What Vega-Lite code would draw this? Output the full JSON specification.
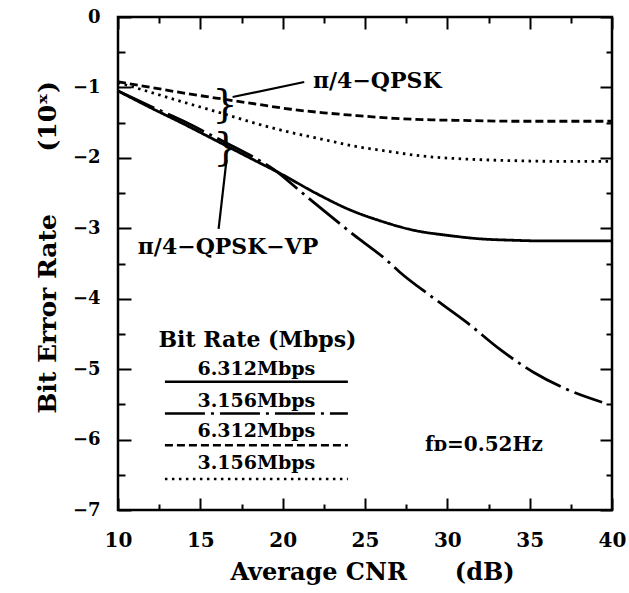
{
  "$schema": "https://vega.github.io/schema/vega-lite/v6.json",
  "width": 494,
  "height": 493,
  "autosize": "none",
  "padding": {"left": 118, "top": 17, "right": 17, "bottom": 83},
  "background": "white",
  "config": {
    "view": {"stroke": "black", "strokeWidth": 2.5},
    "font": "DejaVu Serif",
    "axis": {
      "domain": false,
      "grid": false,
      "ticks": true,
      "tickColor": "black",
      "tickWidth": 2,
      "labelColor": "black",
      "labelFont": "DejaVu Serif",
      "labelFontWeight": "bold",
      "labelFlush": false,
      "labelOverlap": false,
      "titleColor": "black",
      "titleFont": "DejaVu Serif",
      "titleFontWeight": "bold"
    }
  },
  "datasets": {
    "curves": [
      {"series": "VP 6.312", "cnr": 10, "ber": -1.05},
      {"series": "VP 6.312", "cnr": 12, "ber": -1.29},
      {"series": "VP 6.312", "cnr": 14, "ber": -1.52},
      {"series": "VP 6.312", "cnr": 16, "ber": -1.76},
      {"series": "VP 6.312", "cnr": 18, "ber": -2.0},
      {"series": "VP 6.312", "cnr": 20, "ber": -2.24},
      {"series": "VP 6.312", "cnr": 22, "ber": -2.5},
      {"series": "VP 6.312", "cnr": 24, "ber": -2.73},
      {"series": "VP 6.312", "cnr": 26, "ber": -2.9},
      {"series": "VP 6.312", "cnr": 28, "ber": -3.03},
      {"series": "VP 6.312", "cnr": 30, "ber": -3.1},
      {"series": "VP 6.312", "cnr": 32, "ber": -3.15},
      {"series": "VP 6.312", "cnr": 34, "ber": -3.17},
      {"series": "VP 6.312", "cnr": 36, "ber": -3.18},
      {"series": "VP 6.312", "cnr": 38, "ber": -3.18},
      {"series": "VP 6.312", "cnr": 40, "ber": -3.18},
      {"series": "VP 3.156", "cnr": 10, "ber": -1.05},
      {"series": "VP 3.156", "cnr": 12, "ber": -1.27},
      {"series": "VP 3.156", "cnr": 14, "ber": -1.48},
      {"series": "VP 3.156", "cnr": 16, "ber": -1.72},
      {"series": "VP 3.156", "cnr": 18, "ber": -1.96},
      {"series": "VP 3.156", "cnr": 19.5, "ber": -2.17},
      {"series": "VP 3.156", "cnr": 21, "ber": -2.46},
      {"series": "VP 3.156", "cnr": 22.5, "ber": -2.75},
      {"series": "VP 3.156", "cnr": 24.3, "ber": -3.09},
      {"series": "VP 3.156", "cnr": 26.3, "ber": -3.45},
      {"series": "VP 3.156", "cnr": 27.1, "ber": -3.62},
      {"series": "VP 3.156", "cnr": 29.1, "ber": -3.98},
      {"series": "VP 3.156", "cnr": 31.2, "ber": -4.34},
      {"series": "VP 3.156", "cnr": 33.2, "ber": -4.72},
      {"series": "VP 3.156", "cnr": 35.2, "ber": -5.04},
      {"series": "VP 3.156", "cnr": 37.2, "ber": -5.28},
      {"series": "VP 3.156", "cnr": 39.4, "ber": -5.47},
      {"series": "QPSK 6.312", "cnr": 10, "ber": -0.92},
      {"series": "QPSK 6.312", "cnr": 12, "ber": -1.0},
      {"series": "QPSK 6.312", "cnr": 14, "ber": -1.08},
      {"series": "QPSK 6.312", "cnr": 16.5, "ber": -1.17},
      {"series": "QPSK 6.312", "cnr": 18.5, "ber": -1.24},
      {"series": "QPSK 6.312", "cnr": 20.5, "ber": -1.31},
      {"series": "QPSK 6.312", "cnr": 22.5, "ber": -1.36},
      {"series": "QPSK 6.312", "cnr": 24.5, "ber": -1.4},
      {"series": "QPSK 6.312", "cnr": 26.8, "ber": -1.44},
      {"series": "QPSK 6.312", "cnr": 29, "ber": -1.46},
      {"series": "QPSK 6.312", "cnr": 31.4, "ber": -1.47},
      {"series": "QPSK 6.312", "cnr": 34, "ber": -1.48},
      {"series": "QPSK 6.312", "cnr": 37, "ber": -1.48},
      {"series": "QPSK 6.312", "cnr": 40, "ber": -1.48},
      {"series": "QPSK 3.156", "cnr": 10, "ber": -0.93},
      {"series": "QPSK 3.156", "cnr": 12, "ber": -1.07},
      {"series": "QPSK 3.156", "cnr": 14, "ber": -1.21},
      {"series": "QPSK 3.156", "cnr": 16.5, "ber": -1.38},
      {"series": "QPSK 3.156", "cnr": 18.5, "ber": -1.52},
      {"series": "QPSK 3.156", "cnr": 20.5, "ber": -1.64},
      {"series": "QPSK 3.156", "cnr": 22.5, "ber": -1.74},
      {"series": "QPSK 3.156", "cnr": 24.5, "ber": -1.84},
      {"series": "QPSK 3.156", "cnr": 26.5, "ber": -1.91},
      {"series": "QPSK 3.156", "cnr": 28.3, "ber": -1.97},
      {"series": "QPSK 3.156", "cnr": 31.4, "ber": -2.02},
      {"series": "QPSK 3.156", "cnr": 34, "ber": -2.04},
      {"series": "QPSK 3.156", "cnr": 37, "ber": -2.05},
      {"series": "QPSK 3.156", "cnr": 40, "ber": -2.05}
    ],
    "legendLines": [
      {"series": "VP 6.312", "x1": 12.85, "x2": 23.96, "y": -5.18},
      {"series": "VP 3.156", "x1": 12.85, "x2": 23.96, "y": -5.63},
      {"series": "QPSK 6.312", "x1": 12.85, "x2": 23.96, "y": -6.08},
      {"series": "QPSK 3.156", "x1": 12.85, "x2": 23.96, "y": -6.56}
    ],
    "legendLabels": [
      {"label": "6.312Mbps", "x": 18.4, "y": -5.09},
      {"label": "3.156Mbps", "x": 18.4, "y": -5.54},
      {"label": "6.312Mbps", "x": 18.4, "y": -5.96},
      {"label": "3.156Mbps", "x": 18.4, "y": -6.42}
    ],
    "notes": [
      {"label": "π/4−QPSK", "x": 21.84, "y": -1.01, "size": 22},
      {"label": "π/4−QPSK−VP", "x": 11.2, "y": -3.36, "size": 22},
      {"label": "fᴅ=0.52Hz", "x": 28.64, "y": -6.16, "size": 20}
    ],
    "leaders": [
      {"x": 16.96, "y": -1.136, "x2": 21.31, "y2": -0.923},
      {"x": 16.59, "y": -2.03, "x2": 16.11, "y2": -3.01}
    ],
    "braces": [
      {"x": 16.5, "y": -1.25},
      {"x": 16.55, "y": -1.86}
    ]
  },
  "layer": [
    {
      "data": {"name": "curves"},
      "mark": {"type": "line", "interpolate": "monotone", "strokeWidth": 2.8, "color": "black"},
      "encoding": {
        "x": {
          "field": "cnr", "type": "quantitative",
          "scale": {"domain": [10, 40], "nice": false, "zero": false},
          "axis": {
            "orient": "bottom",
            "values": [10, 15, 20, 25, 30, 35, 40],
            "format": "d",
            "tickSize": -12,
            "labelPadding": 32,
            "labelFontSize": 20,
            "title": "Average CNR\u2003\u2003(dB)",
            "titleFontSize": 24,
            "titlePadding": 10,
            "titleX": 254
          }
        },
        "y": {
          "field": "ber", "type": "quantitative",
          "scale": {"domain": [-7, 0], "nice": false, "zero": false},
          "axis": {
            "orient": "left",
            "values": [-7, -6, -5, -4, -3, -2, -1, 0],
            "format": "d",
            "tickSize": -13,
            "labelPadding": 31,
            "labelFontSize": 18,
            "title": "Bit Error Rate\u2003\u2003\u2002(10ˣ)",
            "titleFontSize": 25,
            "titlePadding": 12,
            "titleY": 230
          }
        },
        "detail": {"field": "series"},
        "strokeDash": {
          "field": "series", "type": "nominal", "legend": null,
          "scale": {
            "domain": ["VP 6.312", "VP 3.156", "QPSK 6.312", "QPSK 3.156"],
            "range": [[1, 0], [40, 6, 3, 6], [8, 4], [2.5, 4.5]]
          }
        }
      }
    },
    {
      "data": {"name": "legendLines"},
      "mark": {"type": "rule", "strokeWidth": 2.5, "color": "black"},
      "encoding": {
        "x": {
          "field": "x1", "type": "quantitative",
          "scale": {"domain": [10, 40], "nice": false, "zero": false},
          "axis": {"orient": "top", "values": [10, 15, 20, 25, 30, 35, 40], "labels": false, "tickSize": -12, "title": null}
        },
        "x2": {"field": "x2"},
        "y": {
          "field": "y", "type": "quantitative",
          "scale": {"domain": [-7, 0], "nice": false, "zero": false},
          "axis": {"orient": "right", "values": [-7, -6, -5, -4, -3, -2, -1, 0], "labels": false, "tickSize": -12, "title": null}
        },
        "strokeDash": {
          "field": "series", "type": "nominal", "legend": null,
          "scale": {
            "domain": ["VP 6.312", "VP 3.156", "QPSK 6.312", "QPSK 3.156"],
            "range": [[1, 0], [40, 6, 3, 6], [8, 4], [2.5, 4.5]]
          }
        }
      }
    },
    {
      "data": {"name": "leaders"},
      "mark": {"type": "rule", "strokeWidth": 2.2, "color": "black"},
      "encoding": {
        "x": {
          "field": "x", "type": "quantitative",
          "axis": {"orient": "bottom", "values": [12.5, 17.5, 22.5, 27.5, 32.5, 37.5], "labels": false, "tickSize": -6, "title": null}
        },
        "y": {
          "field": "y", "type": "quantitative",
          "axis": {"orient": "left", "values": [-6.5, -5.5, -4.5, -3.5, -2.5, -1.5, -0.5], "labels": false, "tickSize": -7, "title": null}
        },
        "x2": {"field": "x2"},
        "y2": {"field": "y2"}
      }
    },
    {
      "data": {"name": "braces"},
      "mark": {"type": "text", "text": "}", "fontSize": 40, "font": "DejaVu Serif", "align": "center", "baseline": "middle", "color": "black"},
      "encoding": {
        "x": {
          "field": "x", "type": "quantitative",
          "axis": {"orient": "top", "values": [12.5, 17.5, 22.5, 27.5, 32.5, 37.5], "labels": false, "tickSize": -6, "title": null}
        },
        "y": {
          "field": "y", "type": "quantitative",
          "axis": {"orient": "right", "values": [-6.5, -5.5, -4.5, -3.5, -2.5, -1.5, -0.5], "labels": false, "tickSize": -6, "title": null}
        }
      }
    },
    {
      "data": {"name": "legendLabels"},
      "mark": {"type": "text", "fontSize": 19, "fontWeight": "bold", "font": "DejaVu Serif", "align": "center", "baseline": "alphabetic", "color": "black"},
      "encoding": {
        "x": {"field": "x", "type": "quantitative", "axis": null},
        "y": {"field": "y", "type": "quantitative", "axis": null},
        "text": {"field": "label"}
      }
    },
    {
      "data": {"values": [{"label": "Bit Rate (Mbps)", "x": 18.47, "y": -4.68}]},
      "mark": {"type": "text", "fontSize": 22, "fontWeight": "bold", "font": "DejaVu Serif", "align": "center", "baseline": "alphabetic", "color": "black"},
      "encoding": {
        "x": {"field": "x", "type": "quantitative", "axis": null},
        "y": {"field": "y", "type": "quantitative", "axis": null},
        "text": {"field": "label"}
      }
    },
    {
      "data": {"name": "notes"},
      "mark": {"type": "text", "fontWeight": "bold", "font": "DejaVu Serif", "align": "left", "baseline": "alphabetic", "color": "black"},
      "encoding": {
        "x": {"field": "x", "type": "quantitative", "axis": null},
        "y": {"field": "y", "type": "quantitative", "axis": null},
        "size": {"field": "size", "type": "quantitative", "scale": null, "legend": null},
        "text": {"field": "label"}
      }
    }
  ],
  "resolve": {"axis": {"x": "independent", "y": "independent"}}
}
